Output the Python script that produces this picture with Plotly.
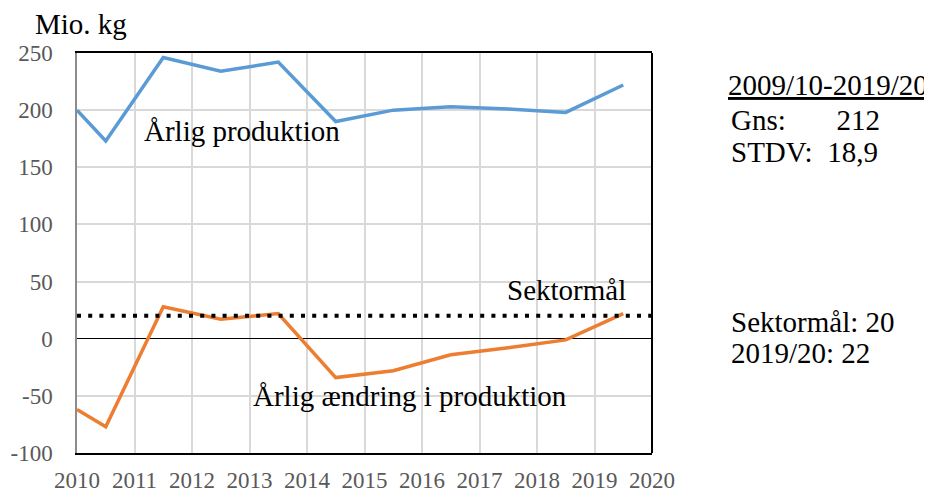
import plotly.graph_objects as go

years = [2010, 2010.5, 2011.5, 2012.5, 2013.5, 2014.5, 2015.5, 2016.5, 2017.5, 2018.5, 2019.5]
produktion = [200, 173, 246, 234, 242, 190, 200, 203, 201, 198, 222]
aendring = [-62, -77, 28, 17, 22, -34, -28, -14, -8, -1, 22]
sektormaal = 20
x_ticks = list(range(2010, 2021))
y_ticks = [-100, -50, 0, 50, 100, 150, 200, 250]

FONT = "Liberation Serif"
OFF = 8  # page body margin
ML, MR, MT, MB = 77 - OFF, 932 - 652 + OFF, 53 - OFF, 490 - 453 + OFF

fig = go.Figure()
fig.add_trace(go.Scatter(x=years, y=produktion, mode="lines",
                         line=dict(color="#5b9bd5", width=3.5)))
fig.add_trace(go.Scatter(x=years, y=aendring, mode="lines",
                         line=dict(color="#ed7d31", width=3.5)))

# Sector goal dotted line
fig.add_shape(type="line", xref="paper", yref="y", x0=0, x1=1.006, y0=sektormaal, y1=sektormaal,
              line=dict(color="black", width=4, dash="4px,7.2px"), layer="above")
# right border
fig.add_shape(type="line", xref="paper", yref="paper", x0=1, x1=1, y0=0, y1=1,
              line=dict(color="black", width=2), layer="above")

fig.update_layout(
    width=932, height=490,
    margin=dict(l=ML, r=MR, t=MT, b=MB, autoexpand=False),
    plot_bgcolor="white", paper_bgcolor="white",
    showlegend=False,
    font=dict(family=FONT),
    xaxis=dict(range=[2010, 2020], tickvals=x_ticks, ticktext=[str(v) for v in x_ticks],
               showgrid=True, gridcolor="#d9d9d9", gridwidth=1.5,
               showline=True, linecolor="black", linewidth=2, mirror=True,
               ticks="", ticklabelstandoff=5, automargin=False,
               tickfont=dict(family=FONT, size=23, color="#595959"),
               zeroline=False, fixedrange=True),
    yaxis=dict(range=[-100, 250], tickvals=y_ticks, ticktext=[str(v) for v in y_ticks],
               showgrid=True, gridcolor="#d9d9d9", gridwidth=1.5,
               showline=True, linecolor="#8c8c8c", linewidth=1.5,
               zeroline=True, zerolinecolor="black", zerolinewidth=1.2,
               ticks="", ticklabelstandoff=18, automargin=False,
               tickfont=dict(family=FONT, size=23, color="#595959"),
               fixedrange=True),
)

PW = 932 - ML - MR
PH = 490 - MT - MB
S = 29
ann = [
    dict(text="Mio. kg", x=33, y=24, anchor="left"),
    dict(text="Årlig produktion", x=142, y=131, anchor="left"),
    dict(text="Sektormål", x=505, y=290, anchor="left"),
    dict(text="Årlig ændring i produktion", x=251, y=396, anchor="left"),
    dict(text="<u>2009/10-2019/20</u>", x=930, y=85, anchor="right"),
    dict(text="Gns:       212", x=729, y=120, anchor="left"),
    dict(text="STDV:  18,9", x=729, y=152, anchor="left"),
    dict(text="Sektormål: 20", x=729, y=322, anchor="left"),
    dict(text="2019/20: 22", x=729, y=353, anchor="left"),
]
for a in ann:
    fig.add_annotation(text=a["text"], xref="paper", yref="paper",
                       x=(a["x"] - 77) / PW, y=1 - (a["y"] - 53) / PH,
                       xanchor=a["anchor"], yanchor="middle", showarrow=False,
                       font=dict(family=FONT, size=S, color="black"))

post = ("setTimeout(function(){var gd=document.getElementById('{plot_id}');"
        "if(window.Plotly&&gd&&gd.data){Plotly.newPlot(gd, gd.data, gd.layout);}}, 30);")
fig.write_html("out.html", post_script=post)
